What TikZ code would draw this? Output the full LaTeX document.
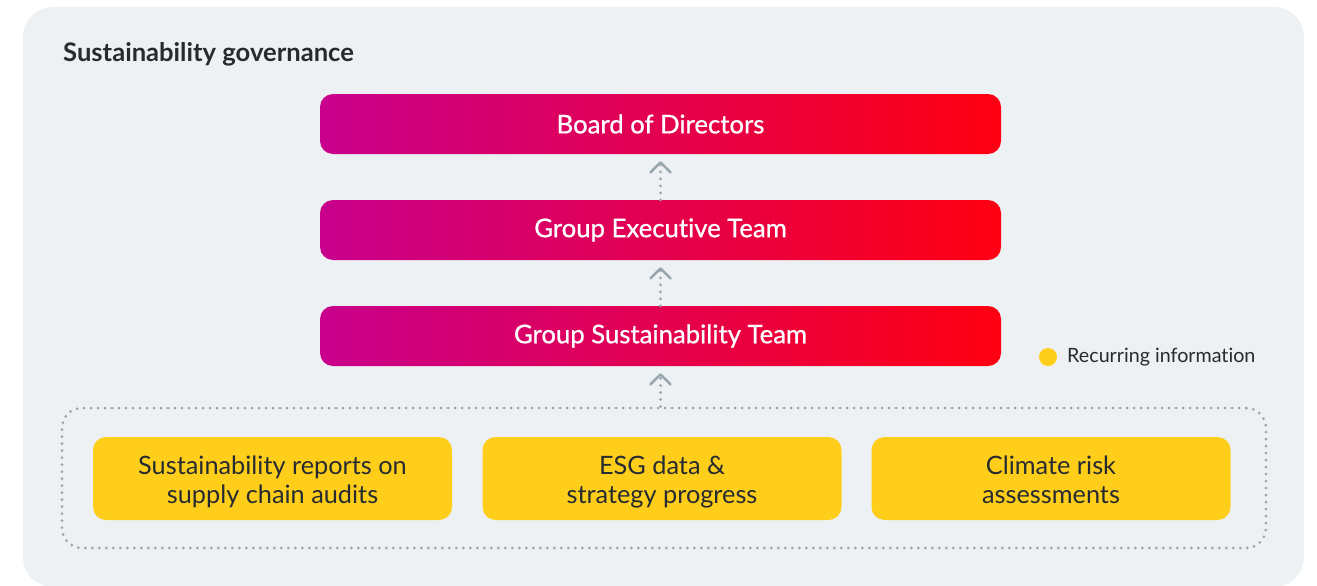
\documentclass[tikz,border=0pt]{standalone}
\usepackage{fontspec}
\setmainfont{Lato}[Ligatures=NoCommon]
\newfontfamily\medfont{Lato}[FakeBold=0.8, Ligatures=NoCommon]
\usetikzlibrary{arrows.meta}

\definecolor{panel}{HTML}{EDF1F4}
\definecolor{ink}{HTML}{262B2F}
\definecolor{magL}{HTML}{C8008C}
\definecolor{magR}{HTML}{FF0012}
\definecolor{sun}{HTML}{FFCE1B}
\definecolor{dots}{HTML}{97A5AD}

% two centred lines, drawn a little below the box centre (layout size unchanged)
\newcommand\pairlines[2]{\raisebox{-5pt}[\height][\depth]{\begin{tabular}{@{}c@{}}#1\\#2\end{tabular}}}

\tikzset{
  level/.style={rounded corners=13pt, minimum width=681pt, minimum height=60pt,
    left color=magL, right color=magR, draw=none, text=white,
    font=\medfont\fontsize{25.7}{29}\selectfont},
  info/.style={rounded corners=13pt, minimum width=359pt, minimum height=83pt,
    fill=sun, text=ink, inner sep=0pt,
    font=\fontsize{25.3}{28.5}\selectfont},
  dotline/.style={draw=dots, line width=3pt, line cap=round,
    dash pattern=on 0pt off 7pt},
  conn/.style={dotline, shorten >=7pt,
    -{Straight Barb[length=10pt, width=20pt, line width=2.5pt, line cap=round, line join=round]}},
}

\begin{document}
\begin{tikzpicture}[x=1pt, y=-1pt]
  \useasboundingbox (0,0) rectangle (1317,586);
  % panel
  \fill[panel, rounded corners=30pt] (23,7) rectangle (1304,587);

  \node[anchor=west, text=ink, font=\fontsize{25.6}{29}\selectfont\bfseries, inner sep=0pt] (title) at (63,54) {Sustainability governance};

  % hierarchy
  \node[level] (board) at (660.5,124) {Board of Directors};
  \node[level] (exec)  at (660.5,230) {Group Executive Team};
  \node[level] (sust)  at (660.5,336) {Group Sustainability Team};

  % recurring inputs
  \node[dotline, rounded corners=20pt, minimum width=1204pt, minimum height=140pt] (inputs) at (664,478) {};
  \node[info] (audits)  at (272.5,478.5) {\pairlines{Sustainability reports on}{supply chain audits}};
  \node[info] (esg)     at (662,478.5)   {\pairlines{ESG data \&}{strategy progress}};
  \node[info] (climate) at (1051,478.5)  {\pairlines{Climate risk}{assessments}};

  % reporting lines
  \draw[conn] (exec.north -| board.south) -- (board.south);
  \draw[conn] (sust.north) -- (exec.south);
  \draw[conn] (inputs.north -| sust.south) -- (sust.south);

  % legend
  \fill[sun] (1048,357) circle (9pt);
  \node[anchor=west, text=ink, font=\fontsize{19.7}{22}\selectfont, inner sep=0pt] (legend) at (1067,357) {Recurring information};
\end{tikzpicture}
\end{document}
